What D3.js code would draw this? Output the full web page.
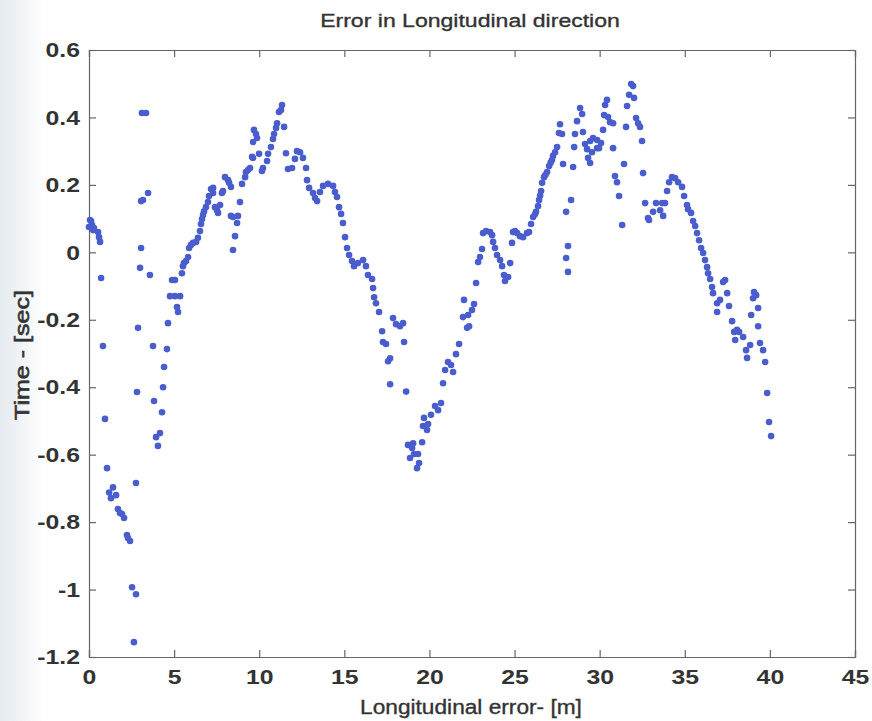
<!DOCTYPE html>
<html>
<head>
<meta charset="utf-8">
<script src="https://cdn.jsdelivr.net/npm/d3@7"></script>
<style>
	body { margin: 0; background: #fff; }
	svg { display: block; }
	text { font-family: Arial, "Liberation Sans", sans-serif; fill: #333; }
</style>
</head>
<body>
<svg id="chart"></svg>
<script>
'use strict';

// [longitudinal error (m), time (sec)]
var firstDip = [
	[0.06,0.096],[0.00,0.075],[0.24,0.066],[0.12,0.093],[0.18,0.081],[0.29,0.072],[0.53,0.060],[0.59,0.045],
	[0.65,0.031],[0.71,-0.076],[0.82,-0.278],[0.94,-0.494],[1.06,-0.640],[1.18,-0.712],[1.41,-0.697],[1.29,-0.729],
	[1.59,-0.720],[1.70,-0.761],[1.82,-0.773],[1.94,-0.776],[2.06,-0.788],[2.23,-0.838],[2.29,-0.847],[2.41,-0.856],
	[2.53,-0.993],[2.76,-1.014],[2.64,-1.156],[2.76,-0.684],[2.82,-0.414],[2.88,-0.224],[3.00,-0.046],[3.06,0.013],
	[3.06,0.152],[3.11,0.413],[3.35,0.413],[3.17,0.155],[3.47,0.176],[3.58,-0.067],[3.76,-0.278],[3.82,-0.441],
	[3.94,-0.548],[4.05,-0.574],[4.17,-0.536],[4.29,-0.474],[4.35,-0.400],[4.41,-0.340],[4.58,-0.287],[4.64,-0.210]
];
var firstRise = [
	[4.76,-0.130],[5.05,-0.130],[5.35,-0.130],[4.88,-0.082],[5.05,-0.082],[5.17,-0.162],[5.23,-0.177],[5.46,-0.062],
	[5.52,-0.041],[5.58,-0.032],[5.70,-0.026],[5.82,-0.014],[5.88,0.013],[5.99,0.022],[6.11,0.028],[6.29,0.031],
	[6.40,0.043],[6.52,0.063],[6.58,0.084],[6.64,0.099],[6.70,0.111],[6.76,0.122],[6.87,0.134],[6.99,0.149],
	[7.05,0.167],[7.17,0.188],[7.29,0.191],[7.29,0.176],[7.40,0.134],[7.52,0.125],[7.58,0.117],[7.70,0.140],
	[7.81,0.176],[7.87,0.182],[7.99,0.223],[8.17,0.214],[8.23,0.206],[8.34,0.194],[8.34,0.108],[8.46,0.105],
	[8.75,0.108],[8.70,0.087],[8.58,0.048],[8.46,0.007],[8.87,0.149],[8.99,0.203],[9.17,0.223],[9.22,0.238],
	[9.34,0.244],[9.46,0.250],[9.58,0.283],[9.64,0.327],[9.69,0.363],[9.81,0.351],[9.87,0.339],[9.64,0.280],
	[9.99,0.292],[10.16,0.241],[10.22,0.250],[10.46,0.271],[10.52,0.292],[10.69,0.312],[10.81,0.336],[10.87,0.351],
	[10.99,0.369],[11.05,0.383],[11.16,0.416],[11.34,0.437],[11.28,0.422],[11.46,0.372],[11.57,0.294],[11.69,0.247],
	[11.93,0.250],[12.10,0.277],[12.22,0.300],[12.40,0.297]
];
var firstFall = [
	[12.57,0.280],[12.75,0.250],[12.81,0.214],[12.93,0.191],[13.16,0.176],[13.28,0.161],[13.40,0.152],[13.57,0.179],
	[13.75,0.197],[14.04,0.203],[14.34,0.197],[14.45,0.179],[14.57,0.164],[14.69,0.134],[14.81,0.114],[14.92,0.087],
	[15.04,0.045],[15.16,0.013],[15.28,-0.008],[15.45,-0.026],[15.57,-0.041],[15.80,-0.032],[16.10,-0.023],[16.27,-0.041],
	[16.39,-0.067],[16.63,-0.079],[16.69,-0.106],[16.75,-0.133],[16.86,-0.151],[17.04,-0.177],[17.22,-0.234],[17.27,-0.266],
	[17.45,-0.272],[17.57,-0.323],[17.69,-0.314],[17.69,-0.391],[17.86,-0.195],[18.04,-0.213],[18.27,-0.219],[18.45,-0.210],
	[18.51,-0.266],[18.63,-0.413]
];
var secondRise = [
	[18.74,-0.571],[18.86,-0.610],[18.98,-0.580],[19.04,-0.566],[19.10,-0.598],[19.33,-0.598],[19.27,-0.640],[19.39,-0.625],
	[19.57,-0.563],[19.62,-0.515],[19.68,-0.491],[19.86,-0.527],[19.92,-0.509],[20.09,-0.482],[20.33,-0.456],[20.51,-0.468],
	[20.68,-0.447],[20.80,-0.388],[20.92,-0.349],[21.09,-0.325],[21.27,-0.334],[21.39,-0.355],[21.56,-0.302],[21.74,-0.272],
	[21.97,-0.192],[22.03,-0.141],[22.21,-0.224],[22.27,-0.186],[22.33,-0.219],[22.50,-0.171],[22.62,-0.153],[22.74,-0.091],
	[22.86,-0.029],[22.97,-0.014],[23.09,0.010],[23.15,0.057],[23.33,0.063],[23.56,0.060],[23.68,0.051],[23.74,0.031],
	[23.85,0.013],[23.97,-0.008],[24.15,-0.023],[24.27,-0.041],[24.38,-0.067],[24.44,-0.085],[24.62,-0.073],[24.74,-0.032],
	[24.85,0.028],[24.91,0.060],[25.03,0.063],[25.15,0.057],[25.32,0.048],[25.50,0.045],[25.73,0.057],[25.85,0.060],
	[25.97,0.084],[26.09,0.105],[26.20,0.113],[26.26,0.120],[26.38,0.137],[26.44,0.155],[26.50,0.168],[26.56,0.182],
	[26.62,0.206],[26.73,0.223],[26.82,0.230],[26.91,0.238],[27.03,0.256],[27.12,0.266],[27.20,0.274],[27.26,0.286],
	[27.38,0.297],[27.50,0.312],[27.61,0.354],[27.67,0.380],[27.79,0.351]
];
var secondPeak = [
	[27.85,0.262],[28.03,0.120],[28.03,-0.017],[28.14,0.019],[28.14,-0.058],[28.32,0.155],[28.44,0.253],[28.50,0.312],
	[28.55,0.351],[28.67,0.389],[28.85,0.428],[28.97,0.410],[29.02,0.357],[29.14,0.321],[29.26,0.306],[29.32,0.280],
	[29.44,0.265],[29.44,0.330],[29.55,0.297],[29.61,0.339],[29.85,0.333],[29.85,0.309],[29.96,0.309],[30.08,0.324],
	[30.20,0.363],[30.26,0.407],[30.32,0.437],[30.43,0.452],[30.49,0.401],[30.61,0.386],[30.79,0.383],[30.79,0.309],
	[30.90,0.226],[31.02,0.208],[31.14,0.167],[31.32,0.081],[31.43,0.262],[31.55,0.372],[31.61,0.434],[31.73,0.467],
	[31.85,0.499],[31.96,0.493],[32.02,0.458],[32.14,0.398],[32.26,0.383],[32.37,0.372],[32.49,0.330],[32.55,0.235]
];
var secondFall = [
	[32.67,0.146],[32.84,0.102],[32.90,0.096],[33.14,0.120],[33.31,0.146],[33.55,0.125],[33.67,0.146],[33.73,0.108],
	[33.84,0.146],[33.96,0.182],[34.08,0.208],[34.25,0.223],[34.43,0.220],[34.61,0.208],[34.84,0.194],[34.96,0.167],
	[35.13,0.140],[35.19,0.128],[35.37,0.117],[35.49,0.093],[35.61,0.078],[35.72,0.057],[35.84,0.036],[35.96,0.013],
	[36.08,-0.002],[36.19,-0.023],[36.31,-0.044],[36.37,-0.062],[36.49,-0.079],[36.60,-0.103],[36.66,-0.121],[36.90,-0.151],
	[36.90,-0.177],[37.07,-0.141],[37.25,-0.088],[37.37,-0.082],[37.49,-0.121],[37.60,-0.159],[37.78,-0.204],[37.90,-0.236],
	[37.96,-0.260],[38.07,-0.230],[38.19,-0.236],[38.43,-0.251],[38.60,-0.290],[38.66,-0.313],[38.84,-0.275],[38.90,-0.186],
	[39.01,-0.136],[39.07,-0.118],[39.19,-0.127],[39.31,-0.165],[39.31,-0.219],[39.42,-0.269],[39.60,-0.290],[39.72,-0.325],
	[39.84,-0.417],[39.95,-0.503],[40.07,-0.545]
];

var xTicks = [0, 5, 10, 15, 20, 25, 30, 35, 40, 45];
var yTicks = [-1.2, -1, -0.8, -0.6, -0.4, -0.2, 0, 0.2, 0.4, 0.6];

var svgWidth = 872;
var svgHeight = 721;
var margin = {top: 50, right: 17, bottom: 64, left: 89};
var width = svgWidth - margin.left - margin.right;
var height = svgHeight - margin.top - margin.bottom;

var svg = d3.select('#chart')
	.attr('width', svgWidth)
	.attr('height', svgHeight);

// faint scanner shading along the left edge
var grad = svg.append('defs').append('linearGradient')
	.attr('id', 'scan')
	.attr('x1', 0).attr('x2', 1);
grad.append('stop').attr('offset', 0).attr('stop-color', '#e4eaef');
grad.append('stop').attr('offset', 1).attr('stop-color', '#ffffff');
svg.append('rect')
	.attr('width', 45)
	.attr('height', svgHeight)
	.attr('fill', 'url(#scan)');

var x = d3.scaleLinear().domain([0, 45]).range([0, width]);
var y = d3.scaleLinear().domain([-1.2, 0.6]).range([height, 0]);

var g = svg.append('g')
	.attr('transform', 'translate(' + margin.left + ',' + margin.top + ')');

g.append('rect')
	.attr('width', width)
	.attr('height', height)
	.attr('fill', '#fff');

var tickLen = 7;
var tickScale = 1.18;
var fmt = function(d) { return d3.format('~g')(d).replace('\u2212', '-'); };

var xAxis = g.append('g')
	.attr('transform', 'translate(0,' + height + ')')
	.call(d3.axisBottom(x).tickValues(xTicks).tickSize(-tickLen).tickPadding(11).tickFormat(fmt));
g.append('g')
	.call(d3.axisTop(x).tickValues(xTicks).tickSize(-tickLen).tickFormat(''));
var yAxis = g.append('g')
	.call(d3.axisLeft(y).tickValues(yTicks).tickSize(-tickLen).tickPadding(9).tickFormat(fmt));
g.append('g')
	.attr('transform', 'translate(' + width + ',0)')
	.call(d3.axisRight(y).tickValues(yTicks).tickSize(-tickLen).tickFormat(''));

g.selectAll('.domain').attr('stroke', '#666').attr('stroke-width', 1.2);
g.selectAll('.tick line').attr('stroke', '#666').attr('stroke-width', 1.2);
g.selectAll('.tick text')
	.attr('fill', '#3a3a3a')
	.style('font-size', '21px')
	.style('font-weight', 'bold')
	.attr('transform', 'scale(' + tickScale + ',1)');
xAxis.selectAll('.tick text').attr('dy', '0.75em');
// keep the right edge of the y labels in place after the horizontal stretch
yAxis.selectAll('.tick text').attr('x', -9 / tickScale);

var allPoints = [].concat(firstDip, firstRise, firstFall, secondRise, secondPeak, secondFall);

g.append('g')
	.selectAll('circle')
	.data(allPoints)
	.enter()
	.append('circle')
	.attr('cx', function(d) { return x(d[0]); })
	.attr('cy', function(d) { return y(d[1]); })
	.attr('r', 3.3)
	.attr('fill', '#4a5dcd');

// the scan widens the lettering: stretch a label to a target width
function placeLabel(txt, cx, cy, size, target, rotate) {
	var t = svg.append('text')
		.attr('text-anchor', 'middle')
		.attr('stroke', '#333')
		.attr('stroke-width', 0.35)
		.style('font-size', size + 'px')
		.text(txt);
	var k = target / t.node().getComputedTextLength();
	t.attr('transform', 'translate(' + cx + ',' + cy + ')' + (rotate ? ' rotate(-90)' : '') + ' scale(' + k + ',1)');
	return t;
}

placeLabel('Error in Longitudinal direction', 470, 27, 19, 300, false);
placeLabel('Longitudinal error- [m]', 471, 714, 20, 222, false);
placeLabel('Time - [sec]', 29, 355, 20, 130, true).attr('stroke-width', 0.6);
</script>
</body>
</html>
